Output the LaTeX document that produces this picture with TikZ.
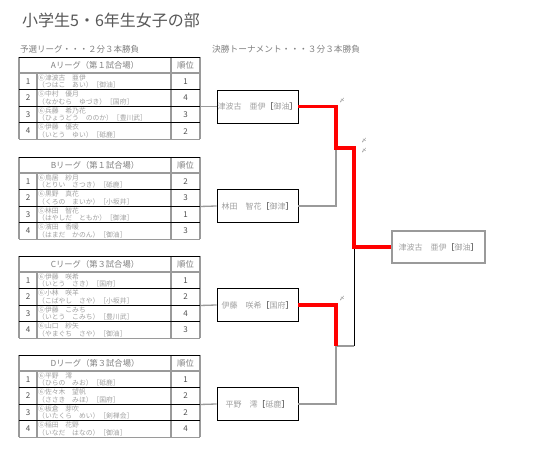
\documentclass[tikz,border=0pt]{standalone}
\usepackage{fontspec}
\setmainfont{Noto Sans CJK JP}
\definecolor{titlec}{HTML}{585858}
\definecolor{subc}{HTML}{808080}
\definecolor{namec}{HTML}{A0A0A0}
\definecolor{numc}{HTML}{505050}
\definecolor{gline}{HTML}{9A9A9A}
\definecolor{winred}{HTML}{FF0000}
\tikzset{
  hdr/.style={inner sep=0pt,font=\fontsize{8.3}{9}\selectfont,text=subc},
  num/.style={inner sep=0pt,font=\fontsize{8}{9}\selectfont,text=numc},
  nm/.style={inner sep=0pt,font=\fontsize{6.8}{7}\selectfont,text=namec,anchor=west},
  vl/.style={draw=gline,line width=1.3pt},
  hl/.style={draw=black,line width=0.7pt},
  hlg/.style={draw=gline,line width=1.1pt},
  tbox/.style={draw=black,line width=0.9pt,minimum width=81pt,minimum height=33pt,inner sep=0pt,
    font=\fontsize{8}{9}\selectfont,text=namec},
  fbox/.style={draw=gline,line width=1.3pt,minimum width=93pt,minimum height=32pt,inner sep=0pt,
    font=\fontsize{8}{9}\selectfont,text=namec},
  feed/.style={draw=gline,line width=1.3pt},
  win/.style={draw=winred,line width=3.4pt},
  blk/.style={draw=black,line width=0.9pt},
  shime/.style={inner sep=0pt,font=\fontsize{5.5}{6}\selectfont,text=subc}
}
\newcommand\brk[1]{\textcolor{black}{［}#1\textcolor{black}{］}}
\newcommand\leaguetable[4]{%
  \begin{scope}[shift={(0,#2)}]
    \node[hdr] (#1h) at (95,8) {#3};
    \node[hdr] (#1r) at (185.5,8) {順位};
    \foreach \n/\na/\nb/\rk in {#4} {
      \pgfmathsetmacro\yy{16+(\n-0.5)*16.6}
      \node[num] (#1n\n) at (28,\yy) {\n};
      \node[nm] (#1a\n) at (38,\yy-3.7) {\na};
      \node[nm] (#1b\n) at (38,\yy+3.9) {\nb};
      \node[num] (#1k\n) at (185.5,\yy) {\rk};
    }
    \draw[vl] (19,0) -- (19,82.4);
    \draw[vl] (37,16) -- (37,82.4);
    \draw[vl] (171,0) -- (171,82.4);
    \draw[vl] (200,0) -- (200,82.4);
    \draw[hl] (19,0) -- (200,0);
    \draw[hlg] (19,16) -- (200,16);
    \foreach \i in {1,2,3} {\draw[hl] (19,16+\i*16.6) -- (200,16+\i*16.6);}
    \draw[hlg] (19,82.4) -- (200,82.4);
    \coordinate (#1out) at (200,49.5);
  \end{scope}}
\begin{document}
\begin{tikzpicture}[x=1pt,y=-1pt]
\fill[white] (0,0) rectangle (542,454);
\useasboundingbox (0,0) rectangle (542,454);

\node[inner sep=0pt,anchor=west,font=\fontsize{16}{18}\selectfont,text=titlec] (title) at (22,20) {小学生5・6年生女子の部};
\node[inner sep=0pt,anchor=west,font=\fontsize{8.5}{9}\selectfont,text=subc] (sub1) at (20,49) {予選リーグ・・・２分３本勝負};
\node[inner sep=0pt,anchor=west,font=\fontsize{8.7}{9}\selectfont,text=subc] (sub2) at (212,49) {決勝トーナメント・・・３分３本勝負};

\leaguetable{A}{57}{Aリーグ（第１試合場）}{%
1/⑥津波古　亜伊/（つはこ　あい）［御油］/1,
2/⑤中村　優月/（なかむら　ゆづき）［国府］/4,
3/⑥兵藤　希乃花/（ひょうどう　ののか）［豊川武］/3,
4/⑤伊藤　優衣/（いとう　ゆい）［砥鹿］/2}
\leaguetable{B}{157}{Bリーグ（第１試合場）}{%
1/⑥鳥居　紗月/（とりい　さつき）［砥鹿］/2,
2/⑥黒野　真花/（くろの　まいか）［小坂井］/3,
3/⑤林田　智花/（はやしだ　ともか）［御津］/1,
4/⑤濱田　香暖/（はまだ　かのん）［御油］/3}
\leaguetable{C}{256}{Cリーグ（第３試合場）}{%
1/⑥伊藤　咲希/（いとう　さき）［国府］/1,
2/⑥小林　咲羊/（こばやし　さや）［小坂井］/2,
3/⑤伊藤　こみち/（いとう　こみち）［豊川武］/4,
4/⑥山口　紗矢/（やまぐち　さや）［御油］/3}
\leaguetable{D}{355}{Dリーグ（第３試合場）}{%
1/⑥平野　澪/（ひらの　みお）［砥鹿］/1,
2/⑥佐々木　望帆/（ささき　みほ）［国府］/2,
3/⑥板倉　芽吹/（いたくら　めい）［剣禅会］/2,
4/⑤稲田　花野/（いなだ　はなの）［御油］/4}

\node[tbox] (q1) at (257.5,106.5) {津波古　亜伊\brk{御油}};
\node[tbox] (q2) at (257.5,206) {林田　智花\brk{御津}};
\node[tbox] (q3) at (257.5,305) {伊藤　咲希\brk{国府}};
\node[tbox] (q4) at (257.5,404) {平野　澪\brk{砥鹿}};
\node[fbox] (f) at (438.5,247) {津波古　亜伊\brk{御油}};

\draw[feed] (Aout) -- (q1.west);
\draw[feed] (Bout) -- (q2.west);
\draw[feed] (Cout) -- (q3.west);
\draw[feed] (Dout) -- (q4.west);

\coordinate (j1) at (336,148);
\coordinate (j2) at (336,346);
\coordinate (s1) at (354,148);
\coordinate (s2) at (354,346);
\coordinate (c) at (354,247);

\draw[feed] (q2.east) -| (j1);
\draw[feed] (q4.east) -| (j2);
\draw[feed] (j2) -- (s2);
\draw[blk] (s2) -- (c);
\draw[win] (q1.east) -| (j1) -- (s1) -- (c) -- (f.west);
\draw[win] (q3.east) -| (j2);

\node[shime] (m1) at (342,101) {〆};
\node[shime] (m2) at (364,141) {〆};
\node[shime] (m3) at (364,151) {〆};
\node[shime] (m4) at (342,299) {〆};
\end{tikzpicture}
\end{document}
